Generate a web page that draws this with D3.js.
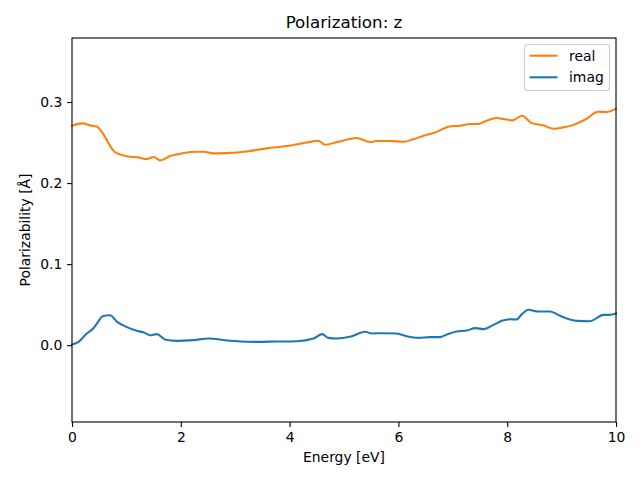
<!DOCTYPE html>
<html><head><meta charset="utf-8">
<script src="https://cdn.jsdelivr.net/npm/d3@7"></script>
<style>body{margin:0;background:#fff}svg{font-family:"DejaVu Sans",sans-serif}</style>
</head><body><svg id="c" width="640" height="480"></svg>
<script>
const realE = [0,0.196,0.33,0.465,0.545,0.78,0.88,1.066,1.22,1.37,1.507,1.62,1.8,2.05,2.29,2.41,2.6,2.84,3.21,3.58,3.95,4.31,4.53,4.65,4.87,5.1,5.23,5.48,5.6,5.85,6.09,6.27,6.46,6.7,6.92,7.13,7.32,7.47,7.62,7.81,7.93,8.1,8.27,8.45,8.66,8.85,9.03,9.19,9.46,9.67,9.83,10];
const realV = [0.2708,0.2737,0.2712,0.2695,0.2634,0.2387,0.2354,0.2325,0.2317,0.2296,0.2321,0.228,0.2333,0.237,0.2387,0.2387,0.2366,0.237,0.239,0.2428,0.2457,0.250,0.2522,0.2473,0.2506,0.2543,0.2556,0.2506,0.2519,0.2519,0.251,0.254,0.2584,0.263,0.2695,0.2708,0.2728,0.2728,0.277,0.2802,0.279,0.2774,0.2831,0.274,0.2712,0.267,0.2687,0.2712,0.2794,0.288,0.2877,0.2918];
const imagE = [0,0.12,0.27,0.39,0.48,0.56,0.7,0.83,1.0,1.19,1.34,1.43,1.56,1.71,1.92,2.23,2.51,2.84,3.33,3.76,4.13,4.44,4.6,4.71,4.87,5.11,5.39,5.51,5.72,5.97,6.15,6.37,6.58,6.76,6.89,7.07,7.26,7.41,7.56,7.74,7.9,8.05,8.17,8.27,8.39,8.57,8.79,8.97,9.28,9.52,9.77,9.88,10];
const imagV = [0.0009,0.004,0.0144,0.0206,0.0288,0.0358,0.037,0.0288,0.0226,0.0177,0.0152,0.0123,0.0136,0.007,0.0053,0.0062,0.0082,0.0058,0.0041,0.0045,0.0049,0.0082,0.0136,0.009,0.0082,0.0103,0.0165,0.0144,0.0148,0.0144,0.0111,0.009,0.0099,0.0099,0.0132,0.0169,0.0181,0.021,0.0198,0.0247,0.030,0.032,0.0317,0.0383,0.0436,0.0416,0.0416,0.0362,0.030,0.0296,0.0374,0.0374,0.039];
const xTicks = [0,2,4,6,8,10];
const yTicks = [0.0,0.1,0.2,0.3];
const seriesNames = ["real","imag"];
const colors = ["#ff7f0e","#1f77b4"];

const svg = d3.select("#c");
const L=72,R=616,T=38,B=422;
const x = d3.scaleLinear().domain([0,10]).range([L,R]);
const y = d3.scaleLinear().domain([-0.0948,0.379]).range([B,T]);

const line = d3.line().x(d=>x(d[0])).y(d=>y(d[1])).curve(d3.curveMonotoneX);
const series = [d3.zip(realE,realV), d3.zip(imagE,imagV)];
series.forEach((s,i)=>{
  svg.append("path").attr("d",line(s)).attr("fill","none").attr("stroke",colors[i]).attr("stroke-width",2.08).attr("stroke-linejoin","round").attr("stroke-linecap","square");
});

const xa = svg.append("g").attr("transform",`translate(0,${B})`).call(d3.axisBottom(x).tickValues(xTicks).tickFormat(d3.format("d")).tickSize(4.9).tickPadding(4.8));
const ya = svg.append("g").attr("transform",`translate(${L},0)`).call(d3.axisLeft(y).tickValues(yTicks).tickFormat(d3.format(".1f")).tickSize(4.9).tickPadding(4.8));
[xa,ya].forEach(a=>{a.select(".domain").remove();a.selectAll("text").attr("font-size",13.9).attr("font-family","DejaVu Sans").attr("fill","#000");a.selectAll("line").attr("stroke","#000").attr("stroke-width",1.1);});

svg.append("rect").attr("x",L).attr("y",T).attr("width",R-L).attr("height",B-T).attr("fill","none").attr("stroke","#000").attr("stroke-width",1.1);

svg.append("text").attr("x",(L+R)/2).attr("y",28).attr("text-anchor","middle").attr("font-size",16.7).text("Polarization: z");
svg.append("text").attr("x",(L+R)/2).attr("y",462).attr("text-anchor","middle").attr("font-size",13.9).text("Energy [eV]");
svg.append("text").attr("transform",`translate(30,${(T+B)/2}) rotate(-90)`).attr("text-anchor","middle").attr("font-size",13.9).text("Polarizability [Å]");

const lg = svg.append("g");
lg.append("rect").attr("x",524.5).attr("y",44.5).attr("width",85).attr("height",46).attr("rx",3).attr("fill","#fff").attr("fill-opacity",0.8).attr("stroke","#ccc").attr("stroke-width",1.1);
seriesNames.forEach((n,i)=>{
  const yy = 55.7 + i*21.6;
  lg.append("line").attr("x1",529.5).attr("x2",557.5).attr("y1",yy).attr("y2",yy).attr("stroke",colors[i]).attr("stroke-width",2.08);
  lg.append("text").attr("x",569).attr("y",yy+5).attr("font-size",13.9).text(n);
});
</script></body></html>
